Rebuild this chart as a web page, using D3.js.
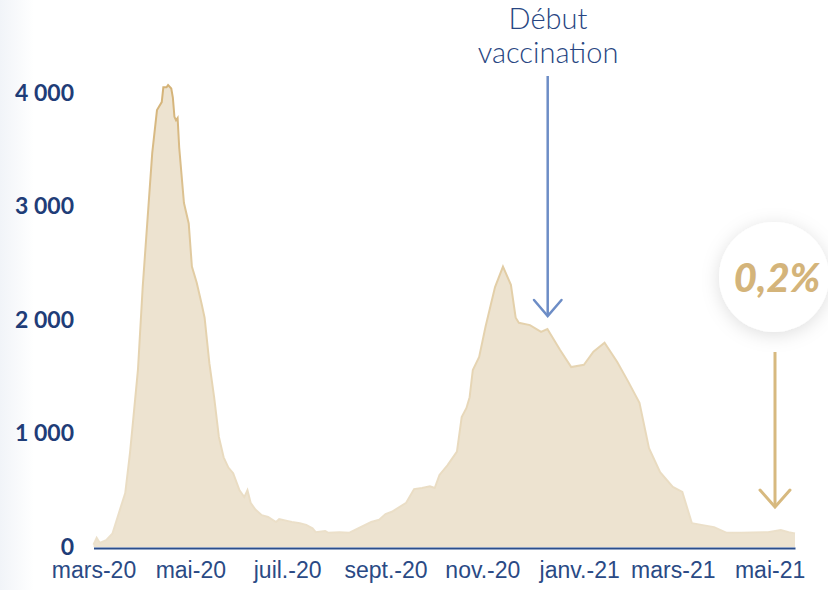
<!DOCTYPE html>
<html lang="fr">
<head>
<meta charset="UTF-8">
<script src="https://cdnjs.cloudflare.com/ajax/libs/d3/7.8.5/d3.min.js"></script>
<title>Début vaccination</title>
<style>
  html, body { margin: 0; padding: 0; background: #fff; }
  svg { display: block; }
</style>
</head>
<body>
<svg width="828" height="590"></svg>
<script>
// values
const dates = ["2020-03-01","2020-03-03","2020-03-05","2020-03-09","2020-03-13","2020-03-17","2020-03-21","2020-03-24","2020-03-26","2020-03-29",
  "2020-04-01","2020-04-04","2020-04-07","2020-04-10","2020-04-13","2020-04-14","2020-04-16","2020-04-17","2020-04-19","2020-04-20",
  "2020-04-21","2020-04-22","2020-04-23","2020-04-24","2020-04-27","2020-04-30","2020-05-02","2020-05-05","2020-05-08","2020-05-10",
  "2020-05-13","2020-05-16","2020-05-19","2020-05-22","2020-05-25","2020-05-28","2020-06-01","2020-06-04","2020-06-06","2020-06-08",
  "2020-06-11","2020-06-15","2020-06-19","2020-06-24","2020-06-26","2020-07-01","2020-07-04","2020-07-09","2020-07-13","2020-07-17",
  "2020-07-19","2020-07-25","2020-07-27","2020-08-03","2020-08-09","2020-08-15","2020-08-23","2020-08-28","2020-09-01","2020-09-05",
  "2020-09-14","2020-09-19","2020-09-24","2020-09-29","2020-10-02","2020-10-05","2020-10-10","2020-10-16","2020-10-19","2020-10-22",
  "2020-10-24","2020-10-26","2020-10-30","2020-11-03","2020-11-09","2020-11-14","2020-11-19","2020-11-22","2020-11-24","2020-12-01",
  "2020-12-08","2020-12-12","2020-12-20","2020-12-27","2021-01-04","2021-01-10","2021-01-17","2021-01-25","2021-02-01","2021-02-08",
  "2021-02-14","2021-02-21","2021-03-01","2021-03-07","2021-03-13","2021-03-19","2021-03-27","2021-04-04","2021-04-13","2021-04-30",
  "2021-05-08","2021-05-13","2021-05-17"];
const values = [20, 80, 35, 60, 120, 300, 475, 830, 1120, 1560,
  2290, 2880, 3470, 3850, 3920, 4050, 4050, 4070, 4040, 3960,
  3790, 3760, 3780, 3520, 3030, 2850, 2470, 2330, 2150, 2020,
  1620, 1320, 970, 790, 700, 650, 500, 440, 500, 390,
  330, 280, 265, 220, 245, 230, 220, 210, 195, 165,
  130, 140, 125, 130, 125, 165, 220, 240, 290, 310,
  390, 510, 520, 535, 520, 635, 720, 840, 1145, 1225,
  1320, 1560, 1675, 1940, 2290, 2470, 2310, 2020, 1975, 1955,
  1895, 1920, 1735, 1585, 1605, 1720, 1800, 1630, 1455, 1270,
  870, 660, 530, 485, 210, 195, 175, 125, 125, 130,
  150, 130, 120];

const tickDates = ["2020-03-01","2020-05-01","2020-07-01","2020-09-01","2020-11-01","2021-01-01","2021-03-01","2021-05-01"];
const tickLabels = ["mars-20","mai-20","juil.-20","sept.-20","nov.-20","janv.-21","mars-21","mai-21"];
const yTicks = [0, 1000, 2000, 3000, 4000];
const domainDates = ["2020-03-01", "2021-05-17"];

const parse = d3.timeParse("%Y-%m-%d");
const data = dates.map((d, i) => ({ date: parse(d), value: values[i] }));

const svg = d3.select("svg");
const defs = svg.append("defs");

// faint grey band on the left edge
const bg = defs.append("linearGradient").attr("id", "leftBand");
bg.append("stop").attr("offset", 0).attr("stop-color", "#f1f4f8");
bg.append("stop").attr("offset", 1).attr("stop-color", "#ffffff");
svg.append("rect").attr("x", 0).attr("y", 0).attr("width", 34).attr("height", 590).attr("fill", "url(#leftBand)");

const x = d3.scaleTime().domain(domainDates.map(parse)).range([93.5, 795]);
const y = d3.scaleLinear().domain([0, 4000]).range([547, 93]);

// outline fades from gold at the top to the fill colour at the bottom
const sg = defs.append("linearGradient").attr("id", "strokeGrad")
  .attr("gradientUnits", "userSpaceOnUse")
  .attr("x1", 0).attr("x2", 0).attr("y1", y(4100)).attr("y2", y(0));
sg.append("stop").attr("offset", 0).attr("stop-color", "#d4b276");
sg.append("stop").attr("offset", 0.45).attr("stop-color", "#e3cfa8");
sg.append("stop").attr("offset", 1).attr("stop-color", "#ece1cc");

const area = d3.area()
  .x(d => x(d.date))
  .y0(y(0))
  .y1(d => y(d.value));

const line = d3.line()
  .x(d => x(d.date))
  .y(d => y(d.value));

svg.append("path")
  .datum(data)
  .attr("d", area)
  .attr("fill", "#ede3d0");

svg.append("path")
  .datum(data)
  .attr("d", line)
  .attr("fill", "none")
  .attr("stroke", "url(#strokeGrad)")
  .attr("stroke-width", 2);

// x axis
const xAxis = d3.axisBottom(x)
  .tickValues(tickDates.map(parse))
  .tickFormat((d, i) => tickLabels[i])
  .tickSize(0)
  .tickSizeOuter(0)
  .tickPadding(14);

const gx = svg.append("g")
  .attr("transform", `translate(0,${y(0) + 1})`)
  .call(xAxis);
gx.select(".domain").attr("stroke", "#2b4e8c").attr("stroke-width", 2);
gx.selectAll("text")
  .attr("fill", "#2a4a85")
  .style("font-family", "'Liberation Sans', Arial, sans-serif")
  .style("font-size", "23px");

// y axis
const yAxis = d3.axisLeft(y)
  .tickValues(yTicks)
  .tickFormat(d => d3.format(",")(d).replace(",", " "))
  .tickSize(0)
  .tickPadding(19.5);

const gy = svg.append("g")
  .attr("transform", "translate(93.5,0)")
  .call(yAxis);
gy.select(".domain").remove();
gy.selectAll("text")
  .attr("fill", "#1f3d78")
  .style("font-family", "Lato, 'Open Sans', sans-serif")
  .style("font-weight", 700)
  .style("font-size", "23px");

// "Début vaccination" annotation
const ann = svg.append("g").attr("fill", "#284682")
  .style("font-family", "Lato, 'Open Sans', sans-serif")
  .style("font-weight", 300)
  .style("font-size", "29px")
  .attr("text-anchor", "middle");
ann.append("text").attr("x", 548).attr("y", 29).text("Début");
ann.append("text").attr("x", 548).attr("y", 63).text("vaccination");

const blue = "#6d8dc6";
svg.append("line").attr("x1", 547.7).attr("x2", 547.7).attr("y1", 76).attr("y2", 316)
  .attr("stroke", blue).attr("stroke-width", 2.5);
svg.append("path").attr("d", "M534,300 L547.7,316 L561.5,300")
  .attr("fill", "none").attr("stroke", blue).attr("stroke-width", 2.5).attr("stroke-linecap", "round");

// 0,2% bubble
const sh = defs.append("filter").attr("id", "shadow")
  .attr("x", "-50%").attr("y", "-50%").attr("width", "200%").attr("height", "200%");
sh.append("feDropShadow").attr("dx", 0).attr("dy", 3).attr("stdDeviation", 9)
  .attr("flood-color", "#000").attr("flood-opacity", 0.13);

svg.append("circle").attr("cx", 774).attr("cy", 277).attr("r", 55)
  .attr("fill", "#fff").attr("filter", "url(#shadow)");
svg.append("text").attr("x", 777).attr("y", 292)
  .attr("text-anchor", "middle")
  .attr("fill", "#d4b47a")
  .style("font-family", "Lato, 'Open Sans', sans-serif")
  .style("font-weight", 900)
  .style("font-style", "italic")
  .style("font-size", "40px")
  .text("0,2%");

const gold = "#d7b97f";
svg.append("line").attr("x1", 775).attr("x2", 775).attr("y1", 352).attr("y2", 507)
  .attr("stroke", gold).attr("stroke-width", 3);
svg.append("path").attr("d", "M760,490 L775,507 L790,490")
  .attr("fill", "none").attr("stroke", gold).attr("stroke-width", 3).attr("stroke-linecap", "round");
</script>
</body>
</html>
